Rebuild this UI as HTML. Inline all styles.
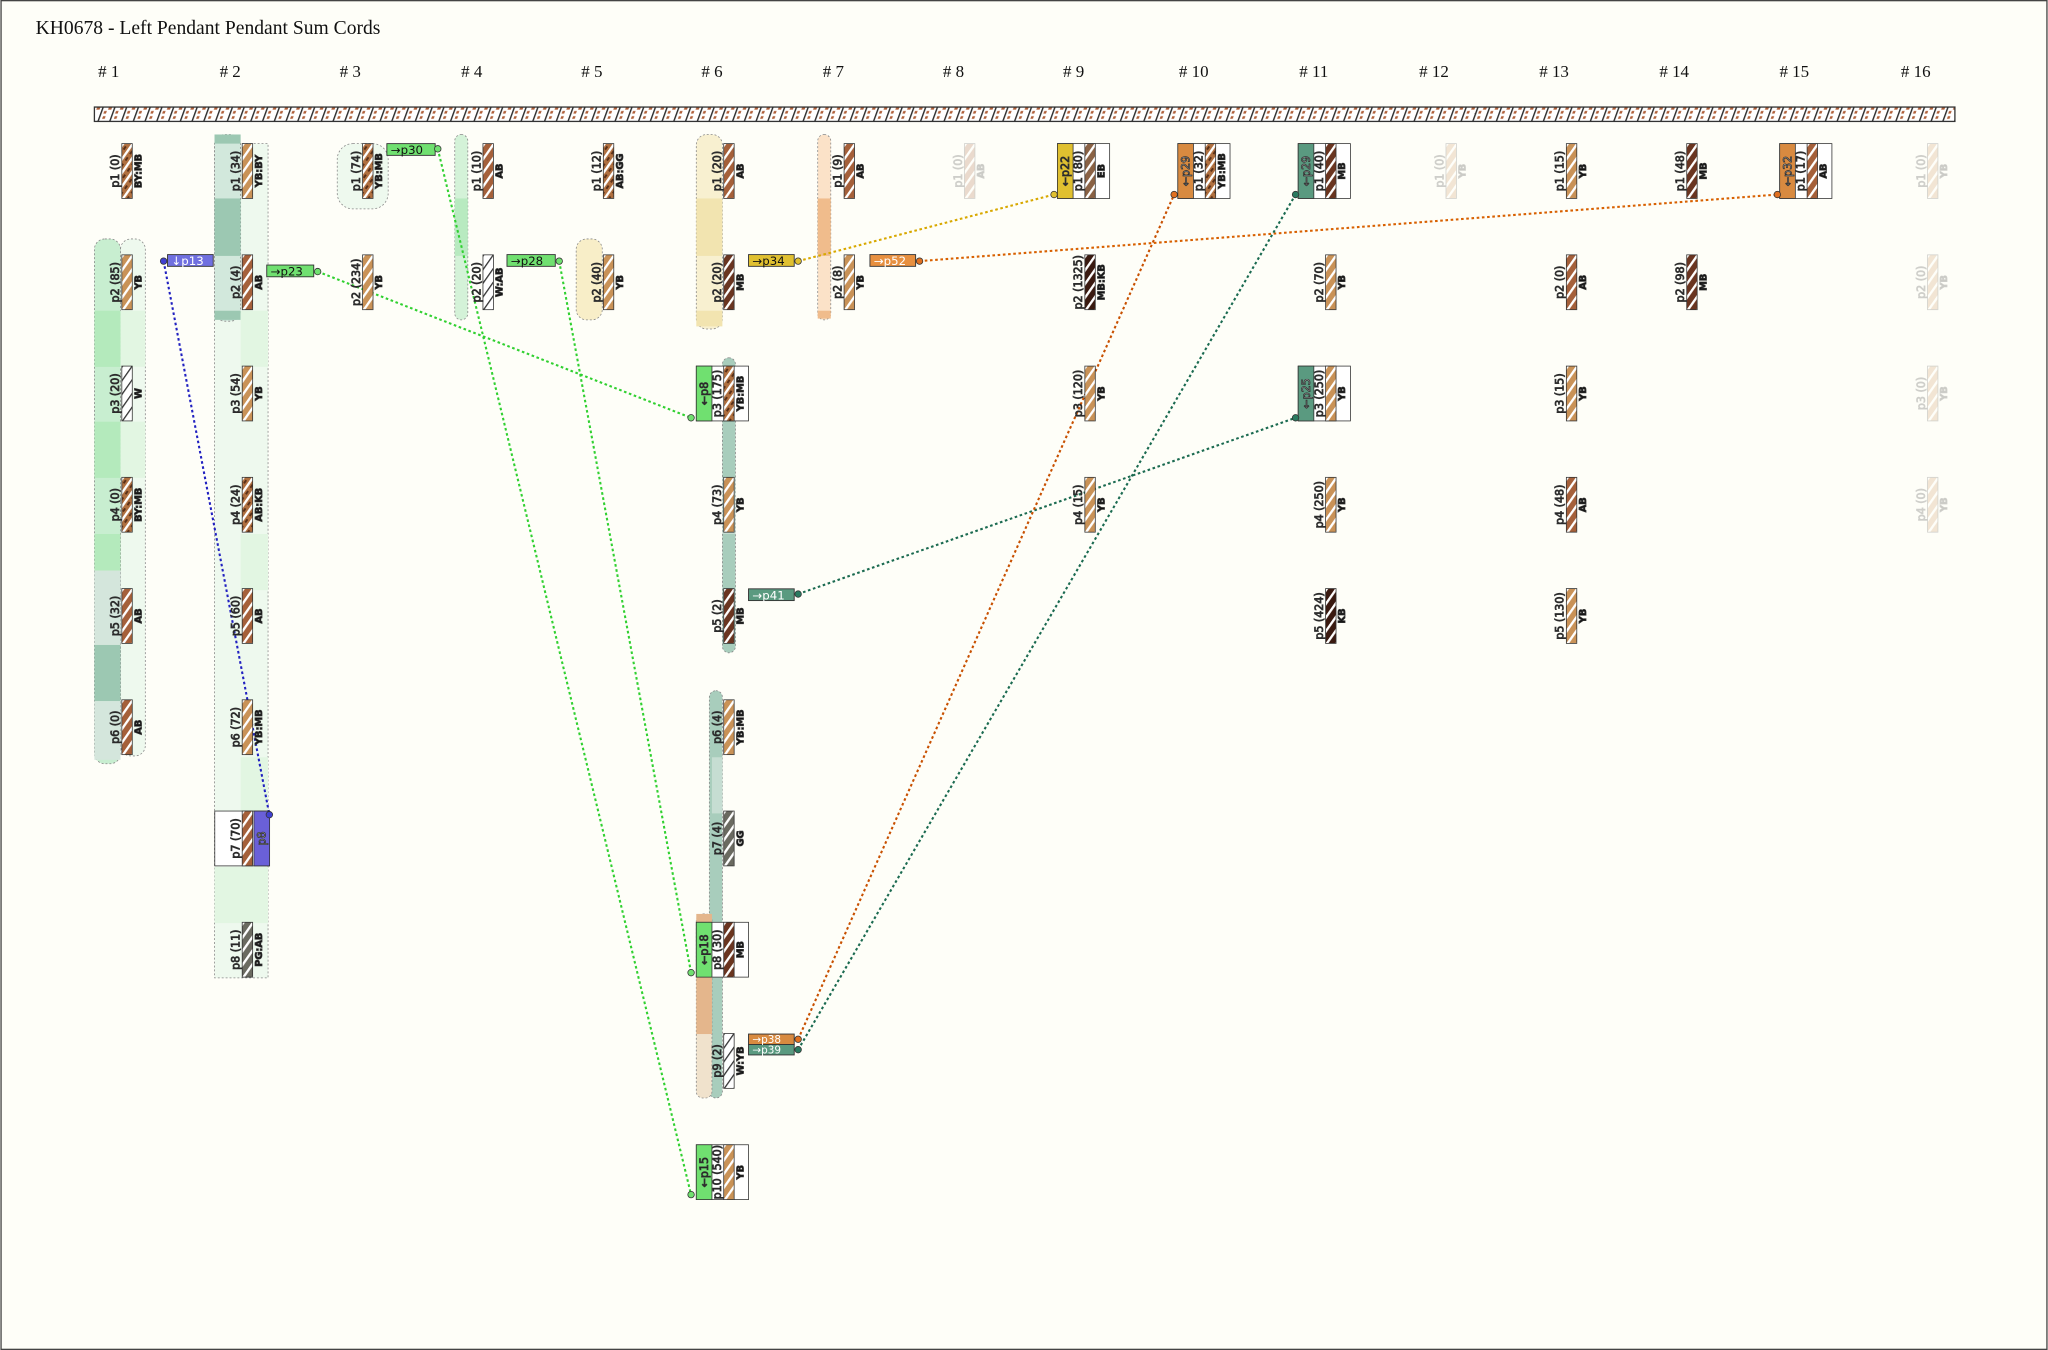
<!DOCTYPE html>
<html><head><meta charset="utf-8"><style>
html,body{margin:0;padding:0;background:#fefef8;}
svg{display:block;}
.p,.c{font-family:"DejaVu Sans","Liberation Sans",sans-serif;font-size:8.5px;text-anchor:middle;fill:#111;}
.c{font-weight:bold;font-size:7.5px;}
.t{font-family:"DejaVu Sans","Liberation Sans",sans-serif;font-size:8.5px;fill:#fff;text-anchor:middle;}
.h{font-family:"Liberation Serif",serif;font-size:13px;fill:#111;text-anchor:middle;}
.f{opacity:.22}
</style></head><body>
<svg width="2048" height="1350" viewBox="0 0 1568 1034" xmlns="http://www.w3.org/2000/svg">
<defs>
<pattern id="AB" width="6" height="6" patternUnits="userSpaceOnUse" patternTransform="rotate(35)"><rect width="6" height="6" fill="#a5603a"/><rect width="1.8" height="6" fill="#fff"/></pattern>
<pattern id="YB" width="6" height="6" patternUnits="userSpaceOnUse" patternTransform="rotate(35)"><rect width="6" height="6" fill="#c99257"/><rect width="1.8" height="6" fill="#fff"/></pattern>
<pattern id="MB" width="6" height="6" patternUnits="userSpaceOnUse" patternTransform="rotate(35)"><rect width="6" height="6" fill="#6a3520"/><rect width="1.8" height="6" fill="#fff"/></pattern>
<pattern id="KB" width="6" height="6" patternUnits="userSpaceOnUse" patternTransform="rotate(35)"><rect width="6" height="6" fill="#3a1a10"/><rect width="1.8" height="6" fill="#fff"/></pattern>
<pattern id="EB" width="6" height="6" patternUnits="userSpaceOnUse" patternTransform="rotate(35)"><rect width="6" height="6" fill="#8a6245"/><rect width="1.8" height="6" fill="#fff"/></pattern>
<pattern id="GG" width="6" height="6" patternUnits="userSpaceOnUse" patternTransform="rotate(35)"><rect width="6" height="6" fill="#6a6a60"/><rect width="1.8" height="6" fill="#fff"/></pattern>
<pattern id="W" width="6" height="6" patternUnits="userSpaceOnUse" patternTransform="rotate(35)"><rect width="6" height="6" fill="#fff"/><rect width="1" height="6" fill="#333"/></pattern>
<pattern id="MX" width="6" height="6" patternUnits="userSpaceOnUse" patternTransform="rotate(35)"><rect width="6" height="6" fill="#b07040"/><rect x="3" width="1.5" height="3" fill="#5a3018"/><rect width="1.8" height="6" fill="#fff"/></pattern>
<pattern id="TOP" width="9" height="11" patternUnits="userSpaceOnUse" patternTransform="skewX(-20)"><rect width="9" height="11" fill="#fff"/><rect width="1.2" height="11" fill="#333"/><rect x="3" y="1" width="2" height="2" fill="#b0603a"/><rect x="5" y="5" width="2.5" height="2" fill="#b0603a"/><rect x="2.5" y="8" width="2" height="2" fill="#b0603a"/></pattern>
</defs>
<rect x="0.5" y="0.5" width="1567" height="1033" fill="#fefef8" stroke="#444"/>
<text x="27" y="26" font-family="Liberation Serif,serif" font-size="15" fill="#111">KH0678 - Left Pendant Pendant Sum Cords</text>
<g class="h">
<text x="83" y="59"># 1</text><text x="176" y="59"># 2</text><text x="268" y="59"># 3</text><text x="361" y="59"># 4</text><text x="453" y="59"># 5</text><text x="545" y="59"># 6</text><text x="638" y="59"># 7</text><text x="730" y="59"># 8</text><text x="822" y="59"># 9</text><text x="914" y="59"># 10</text><text x="1006" y="59"># 11</text><text x="1098" y="59"># 12</text><text x="1190" y="59"># 13</text><text x="1282" y="59"># 14</text><text x="1374" y="59"># 15</text><text x="1467" y="59"># 16</text>
</g>
<rect x="72" y="82" width="1425" height="11" fill="url(#TOP)" stroke="#333"/>

<g stroke="#888" stroke-dasharray="1.5,1.5" stroke-width="0.6">
<rect x="92" y="183" width="19" height="396" rx="8" fill="#eef9ee"/>
<rect x="72" y="183" width="20" height="402" rx="8" fill="#c8eed0"/>
<rect x="164" y="110" width="41" height="639" fill="#eef9ee"/>
<rect x="164" y="103" width="20" height="143" rx="8" fill="#d2e8dc"/>
<rect x="258" y="110" width="39" height="50" rx="12" fill="#eef9ee"/>
<rect x="348" y="103" width="10" height="142" rx="5" fill="#d4f2d8"/>
<rect x="441" y="183" width="20" height="62" rx="8" fill="#f8eec8"/>
<rect x="533" y="103" width="20" height="149" rx="8" fill="#f8f0d0"/>
<rect x="553" y="274" width="10" height="226" rx="5" fill="#a8cdbc"/>
<rect x="543" y="529" width="10" height="312" rx="5" fill="#a8cdbc"/>
<rect x="533" y="700" width="12" height="141" rx="5" fill="#f0e2cc"/>
<rect x="626" y="103" width="10" height="142" rx="5" fill="#fbe2c8"/>
</g>
<g stroke="none">
<rect x="72" y="238" width="20" height="43" fill="#b4eabc"/><rect x="72" y="323" width="20" height="43" fill="#b4eabc"/><rect x="72" y="409" width="20" height="28" fill="#b4eabc"/>
<rect x="72" y="437" width="20" height="57" fill="#d4e6dc"/><rect x="72" y="494" width="20" height="43" fill="#9cc8b2"/><rect x="72" y="537" width="20" height="45" fill="#d4e6dc"/>
<rect x="92" y="238" width="19" height="43" fill="#e2f6e2"/><rect x="92" y="323" width="19" height="43" fill="#e2f6e2"/>
<rect x="164" y="103" width="20" height="7" fill="#9cc8b2"/><rect x="164" y="152" width="20" height="44" fill="#9cc8b2"/><rect x="164" y="238" width="20" height="7" fill="#9cc8b2"/>
<rect x="184" y="238" width="21" height="43" fill="#e2f6e2"/><rect x="184" y="409" width="21" height="43" fill="#e2f6e2"/><rect x="184" y="580" width="21" height="43" fill="#e2f6e2"/><rect x="164" y="664" width="41" height="43" fill="#e2f6e2"/>
<rect x="348" y="152" width="10" height="44" fill="#b8eac0"/>
<rect x="533" y="152" width="20" height="44" fill="#f2e4b0"/><rect x="533" y="238" width="20" height="12" fill="#f2e4b0"/>
<rect x="626" y="152" width="10" height="44" fill="#f0bc8c"/><rect x="626" y="238" width="10" height="6" fill="#f0bc8c"/>
<rect x="533" y="700" width="12" height="92" fill="#e4b68c"/>
<rect x="553" y="366" width="10" height="43" fill="#c6ddd2"/><rect x="545" y="580" width="8" height="43" fill="#c6ddd2"/>
</g>

<g fill="none" stroke-dasharray="2,2" stroke-width="1.6">
<line x1="125" y1="200" x2="206" y2="624" stroke="#2020c0"/>
<line x1="243" y1="208" x2="529" y2="320" stroke="#30d030"/>
<line x1="335" y1="114" x2="529" y2="915" stroke="#30d030"/>
<line x1="428" y1="200" x2="529" y2="745" stroke="#30d030"/>
<line x1="611" y1="200" x2="807" y2="149" stroke="#d8a800"/>
<line x1="704" y1="200" x2="1361" y2="149" stroke="#d86000"/>
<line x1="611" y1="455" x2="992" y2="320" stroke="#1a6a50"/>
<line x1="611" y1="796" x2="899" y2="149" stroke="#c85000"/>
<line x1="611" y1="804" x2="992" y2="149" stroke="#1a6a50"/>
</g>

<g stroke="#333" stroke-width="0.7">
<rect x="128" y="195" width="35" height="9" fill="#7070e0"/>
<rect x="204" y="203" width="36" height="9" fill="#70e070"/>
<rect x="296" y="110" width="37" height="9" fill="#70e070"/>
<rect x="388" y="195" width="37" height="9" fill="#70e070"/>
<rect x="573" y="195" width="35" height="9" fill="#e0c030"/>
<rect x="666" y="195" width="35" height="9" fill="#e89040"/>
<rect x="573" y="451" width="35" height="9" fill="#5a9a80"/>
<rect x="573" y="792" width="35" height="8" fill="#d88a40"/>
<rect x="573" y="800" width="35" height="8" fill="#5a9a80"/>
</g>
<g font-family="DejaVu Sans,sans-serif" font-size="9">
<text x="131" y="203" fill="#fff">↓p13</text>
<text x="207" y="211" fill="#111">→p23</text>
<text x="299" y="118" fill="#111">→p30</text>
<text x="391" y="203" fill="#111">→p28</text>
<text x="576" y="203" fill="#111">→p34</text>
<text x="669" y="203" fill="#fff">→p52</text>
<text x="576" y="459" fill="#fff">→p41</text>
<text x="576" y="799" fill="#fff" font-size="8">→p38</text>
<text x="576" y="807" fill="#fff" font-size="8">→p39</text>
</g>

<g stroke="#333" stroke-width="0.6">
<g transform="translate(93,110)"><rect width="8" height="42" fill="url(#MX)"/><text class="p" transform="translate(-2,21) rotate(-90)">p1 (0)</text><text class="c" transform="translate(15,21) rotate(-90)">BY:MB</text></g>
<g transform="translate(93,195.2)"><rect width="8" height="42" fill="url(#YB)"/><text class="p" transform="translate(-2,21) rotate(-90)">p2 (85)</text><text class="c" transform="translate(15,21) rotate(-90)">YB</text></g>
<g transform="translate(93,280.4)"><rect width="8" height="42" fill="url(#W)"/><text class="p" transform="translate(-2,21) rotate(-90)">p3 (20)</text><text class="c" transform="translate(15,21) rotate(-90)">W</text></g>
<g transform="translate(93,365.6)"><rect width="8" height="42" fill="url(#MX)"/><text class="p" transform="translate(-2,21) rotate(-90)">p4 (0)</text><text class="c" transform="translate(15,21) rotate(-90)">BY:MB</text></g>
<g transform="translate(93,450.8)"><rect width="8" height="42" fill="url(#AB)"/><text class="p" transform="translate(-2,21) rotate(-90)">p5 (32)</text><text class="c" transform="translate(15,21) rotate(-90)">AB</text></g>
<g transform="translate(93,536)"><rect width="8" height="42" fill="url(#AB)"/><text class="p" transform="translate(-2,21) rotate(-90)">p6 (0)</text><text class="c" transform="translate(15,21) rotate(-90)">AB</text></g>
<g transform="translate(185.2,110)"><rect width="8" height="42" fill="url(#YB)"/><text class="p" transform="translate(-2,21) rotate(-90)">p1 (34)</text><text class="c" transform="translate(15,21) rotate(-90)">YB:BY</text></g>
<g transform="translate(185.2,195.2)"><rect width="8" height="42" fill="url(#AB)"/><text class="p" transform="translate(-2,21) rotate(-90)">p2 (4)</text><text class="c" transform="translate(15,21) rotate(-90)">AB</text></g>
<g transform="translate(185.2,280.4)"><rect width="8" height="42" fill="url(#YB)"/><text class="p" transform="translate(-2,21) rotate(-90)">p3 (54)</text><text class="c" transform="translate(15,21) rotate(-90)">YB</text></g>
<g transform="translate(185.2,365.6)"><rect width="8" height="42" fill="url(#MX)"/><text class="p" transform="translate(-2,21) rotate(-90)">p4 (24)</text><text class="c" transform="translate(15,21) rotate(-90)">AB:KB</text></g>
<g transform="translate(185.2,450.8)"><rect width="8" height="42" fill="url(#AB)"/><text class="p" transform="translate(-2,21) rotate(-90)">p5 (60)</text><text class="c" transform="translate(15,21) rotate(-90)">AB</text></g>
<g transform="translate(185.2,536)"><rect width="8" height="42" fill="url(#YB)"/><text class="p" transform="translate(-2,21) rotate(-90)">p6 (72)</text><text class="c" transform="translate(15,21) rotate(-90)">YB:MB</text></g>
<g transform="translate(185.2,621.2)"><rect x="-21" width="42" height="42" fill="#fff"/><rect x="9" width="12" height="42" fill="#6a60d8"/><rect width="8" height="42" fill="url(#AB)"/><text class="p" transform="translate(-2,21) rotate(-90)">p7 (70)</text><text class="t" transform="translate(18,21) rotate(-90)">p8</text></g>
<g transform="translate(185.2,706.4)"><rect width="8" height="42" fill="url(#GG)"/><text class="p" transform="translate(-2,21) rotate(-90)">p8 (11)</text><text class="c" transform="translate(15,21) rotate(-90)">PG:AB</text></g>
<g transform="translate(277.4,110)"><rect width="8" height="42" fill="url(#MX)"/><text class="p" transform="translate(-2,21) rotate(-90)">p1 (74)</text><text class="c" transform="translate(15,21) rotate(-90)">YB:MB</text></g>
<g transform="translate(277.4,195.2)"><rect width="8" height="42" fill="url(#YB)"/><text class="p" transform="translate(-2,21) rotate(-90)">p2 (234)</text><text class="c" transform="translate(15,21) rotate(-90)">YB</text></g>
<g transform="translate(369.6,110)"><rect width="8" height="42" fill="url(#AB)"/><text class="p" transform="translate(-2,21) rotate(-90)">p1 (10)</text><text class="c" transform="translate(15,21) rotate(-90)">AB</text></g>
<g transform="translate(369.6,195.2)"><rect width="8" height="42" fill="url(#W)"/><text class="p" transform="translate(-2,21) rotate(-90)">p2 (20)</text><text class="c" transform="translate(15,21) rotate(-90)">W:AB</text></g>
<g transform="translate(461.8,110)"><rect width="8" height="42" fill="url(#MX)"/><text class="p" transform="translate(-2,21) rotate(-90)">p1 (12)</text><text class="c" transform="translate(15,21) rotate(-90)">AB:GG</text></g>
<g transform="translate(461.8,195.2)"><rect width="8" height="42" fill="url(#YB)"/><text class="p" transform="translate(-2,21) rotate(-90)">p2 (40)</text><text class="c" transform="translate(15,21) rotate(-90)">YB</text></g>
<g transform="translate(554,110)"><rect width="8" height="42" fill="url(#AB)"/><text class="p" transform="translate(-2,21) rotate(-90)">p1 (20)</text><text class="c" transform="translate(15,21) rotate(-90)">AB</text></g>
<g transform="translate(554,195.2)"><rect width="8" height="42" fill="url(#MB)"/><text class="p" transform="translate(-2,21) rotate(-90)">p2 (20)</text><text class="c" transform="translate(15,21) rotate(-90)">MB</text></g>
<g transform="translate(554,280.4)"><rect x="-21" width="40" height="42" fill="#fff"/><rect x="-21" width="12" height="42" fill="#70e070"/><rect width="8" height="42" fill="url(#MX)"/><text class="p" transform="translate(-2,21) rotate(-90)">p3 (175)</text><text class="c" transform="translate(15,21) rotate(-90)">YB:MB</text><text class="t" style="fill:#111" transform="translate(-12,21) rotate(-90)">←p8</text></g>
<g transform="translate(554,365.6)"><rect width="8" height="42" fill="url(#YB)"/><text class="p" transform="translate(-2,21) rotate(-90)">p4 (73)</text><text class="c" transform="translate(15,21) rotate(-90)">YB</text></g>
<g transform="translate(554,450.8)"><rect width="8" height="42" fill="url(#MB)"/><text class="p" transform="translate(-2,21) rotate(-90)">p5 (2)</text><text class="c" transform="translate(15,21) rotate(-90)">MB</text></g>
<g transform="translate(554,536)"><rect width="8" height="42" fill="url(#YB)"/><text class="p" transform="translate(-2,21) rotate(-90)">p6 (4)</text><text class="c" transform="translate(15,21) rotate(-90)">YB:MB</text></g>
<g transform="translate(554,621.2)"><rect width="8" height="42" fill="url(#GG)"/><text class="p" transform="translate(-2,21) rotate(-90)">p7 (4)</text><text class="c" transform="translate(15,21) rotate(-90)">GG</text></g>
<g transform="translate(554,706.4)"><rect x="-21" width="40" height="42" fill="#fff"/><rect x="-21" width="12" height="42" fill="#70e070"/><rect width="8" height="42" fill="url(#MB)"/><text class="p" transform="translate(-2,21) rotate(-90)">p8 (30)</text><text class="c" transform="translate(15,21) rotate(-90)">MB</text><text class="t" style="fill:#111" transform="translate(-12,21) rotate(-90)">←p18</text></g>
<g transform="translate(554,791.6)"><rect width="8" height="42" fill="url(#W)"/><text class="p" transform="translate(-2,21) rotate(-90)">p9 (2)</text><text class="c" transform="translate(15,21) rotate(-90)">W:YB</text></g>
<g transform="translate(554,876.8)"><rect x="-21" width="40" height="42" fill="#fff"/><rect x="-21" width="12" height="42" fill="#70e070"/><rect width="8" height="42" fill="url(#YB)"/><text class="p" transform="translate(-2,21) rotate(-90)">p10 (540)</text><text class="c" transform="translate(15,21) rotate(-90)">YB</text><text class="t" style="fill:#111" transform="translate(-12,21) rotate(-90)">←p15</text></g>
<g transform="translate(646.2,110)"><rect width="8" height="42" fill="url(#AB)"/><text class="p" transform="translate(-2,21) rotate(-90)">p1 (9)</text><text class="c" transform="translate(15,21) rotate(-90)">AB</text></g>
<g transform="translate(646.2,195.2)"><rect width="8" height="42" fill="url(#YB)"/><text class="p" transform="translate(-2,21) rotate(-90)">p2 (8)</text><text class="c" transform="translate(15,21) rotate(-90)">YB</text></g>
<g class="f" transform="translate(738.4,110)"><rect width="8" height="42" fill="url(#AB)"/><text class="p" transform="translate(-2,21) rotate(-90)">p1 (0)</text><text class="c" transform="translate(15,21) rotate(-90)">AB</text></g>
<g transform="translate(830.6,110)"><rect x="-21" width="40" height="42" fill="#fff"/><rect x="-21" width="12" height="42" fill="#e0c030"/><rect width="8" height="42" fill="url(#EB)"/><text class="p" transform="translate(-2,21) rotate(-90)">p1 (80)</text><text class="c" transform="translate(15,21) rotate(-90)">EB</text><text class="t" style="fill:#111" transform="translate(-12,21) rotate(-90)">←p22</text></g>
<g transform="translate(830.6,195.2)"><rect width="8" height="42" fill="url(#KB)"/><text class="p" transform="translate(-2,21) rotate(-90)">p2 (1325)</text><text class="c" transform="translate(15,21) rotate(-90)">MB:KB</text></g>
<g transform="translate(830.6,280.4)"><rect width="8" height="42" fill="url(#YB)"/><text class="p" transform="translate(-2,21) rotate(-90)">p3 (120)</text><text class="c" transform="translate(15,21) rotate(-90)">YB</text></g>
<g transform="translate(830.6,365.6)"><rect width="8" height="42" fill="url(#YB)"/><text class="p" transform="translate(-2,21) rotate(-90)">p4 (15)</text><text class="c" transform="translate(15,21) rotate(-90)">YB</text></g>
<g transform="translate(922.8,110)"><rect x="-21" width="40" height="42" fill="#fff"/><rect x="-21" width="12" height="42" fill="#d88a40"/><rect width="8" height="42" fill="url(#MX)"/><text class="p" transform="translate(-2,21) rotate(-90)">p1 (32)</text><text class="c" transform="translate(15,21) rotate(-90)">YB:MB</text><text class="t" transform="translate(-12,21) rotate(-90)">←p29</text></g>
<g transform="translate(1015,110)"><rect x="-21" width="40" height="42" fill="#fff"/><rect x="-21" width="12" height="42" fill="#5a9a80"/><rect width="8" height="42" fill="url(#MB)"/><text class="p" transform="translate(-2,21) rotate(-90)">p1 (40)</text><text class="c" transform="translate(15,21) rotate(-90)">MB</text><text class="t" transform="translate(-12,21) rotate(-90)">←p29</text></g>
<g transform="translate(1015,195.2)"><rect width="8" height="42" fill="url(#YB)"/><text class="p" transform="translate(-2,21) rotate(-90)">p2 (70)</text><text class="c" transform="translate(15,21) rotate(-90)">YB</text></g>
<g transform="translate(1015,280.4)"><rect x="-21" width="40" height="42" fill="#fff"/><rect x="-21" width="12" height="42" fill="#5a9a80"/><rect width="8" height="42" fill="url(#YB)"/><text class="p" transform="translate(-2,21) rotate(-90)">p3 (250)</text><text class="c" transform="translate(15,21) rotate(-90)">YB</text><text class="t" transform="translate(-12,21) rotate(-90)">←p25</text></g>
<g transform="translate(1015,365.6)"><rect width="8" height="42" fill="url(#YB)"/><text class="p" transform="translate(-2,21) rotate(-90)">p4 (250)</text><text class="c" transform="translate(15,21) rotate(-90)">YB</text></g>
<g transform="translate(1015,450.8)"><rect width="8" height="42" fill="url(#KB)"/><text class="p" transform="translate(-2,21) rotate(-90)">p5 (424)</text><text class="c" transform="translate(15,21) rotate(-90)">KB</text></g>
<g class="f" transform="translate(1107.2,110)"><rect width="8" height="42" fill="url(#YB)"/><text class="p" transform="translate(-2,21) rotate(-90)">p1 (0)</text><text class="c" transform="translate(15,21) rotate(-90)">YB</text></g>
<g transform="translate(1199.4,110)"><rect width="8" height="42" fill="url(#YB)"/><text class="p" transform="translate(-2,21) rotate(-90)">p1 (15)</text><text class="c" transform="translate(15,21) rotate(-90)">YB</text></g>
<g transform="translate(1199.4,195.2)"><rect width="8" height="42" fill="url(#AB)"/><text class="p" transform="translate(-2,21) rotate(-90)">p2 (0)</text><text class="c" transform="translate(15,21) rotate(-90)">AB</text></g>
<g transform="translate(1199.4,280.4)"><rect width="8" height="42" fill="url(#YB)"/><text class="p" transform="translate(-2,21) rotate(-90)">p3 (15)</text><text class="c" transform="translate(15,21) rotate(-90)">YB</text></g>
<g transform="translate(1199.4,365.6)"><rect width="8" height="42" fill="url(#AB)"/><text class="p" transform="translate(-2,21) rotate(-90)">p4 (48)</text><text class="c" transform="translate(15,21) rotate(-90)">AB</text></g>
<g transform="translate(1199.4,450.8)"><rect width="8" height="42" fill="url(#YB)"/><text class="p" transform="translate(-2,21) rotate(-90)">p5 (130)</text><text class="c" transform="translate(15,21) rotate(-90)">YB</text></g>
<g transform="translate(1291.6,110)"><rect width="8" height="42" fill="url(#MB)"/><text class="p" transform="translate(-2,21) rotate(-90)">p1 (48)</text><text class="c" transform="translate(15,21) rotate(-90)">MB</text></g>
<g transform="translate(1291.6,195.2)"><rect width="8" height="42" fill="url(#MB)"/><text class="p" transform="translate(-2,21) rotate(-90)">p2 (98)</text><text class="c" transform="translate(15,21) rotate(-90)">MB</text></g>
<g transform="translate(1383.8,110)"><rect x="-21" width="40" height="42" fill="#fff"/><rect x="-21" width="12" height="42" fill="#d88a40"/><rect width="8" height="42" fill="url(#AB)"/><text class="p" transform="translate(-2,21) rotate(-90)">p1 (17)</text><text class="c" transform="translate(15,21) rotate(-90)">AB</text><text class="t" transform="translate(-12,21) rotate(-90)">←p32</text></g>
<g class="f" transform="translate(1476,110)"><rect width="8" height="42" fill="url(#YB)"/><text class="p" transform="translate(-2,21) rotate(-90)">p1 (0)</text><text class="c" transform="translate(15,21) rotate(-90)">YB</text></g>
<g class="f" transform="translate(1476,195.2)"><rect width="8" height="42" fill="url(#YB)"/><text class="p" transform="translate(-2,21) rotate(-90)">p2 (0)</text><text class="c" transform="translate(15,21) rotate(-90)">YB</text></g>
<g class="f" transform="translate(1476,280.4)"><rect width="8" height="42" fill="url(#YB)"/><text class="p" transform="translate(-2,21) rotate(-90)">p3 (0)</text><text class="c" transform="translate(15,21) rotate(-90)">YB</text></g>
<g class="f" transform="translate(1476,365.6)"><rect width="8" height="42" fill="url(#YB)"/><text class="p" transform="translate(-2,21) rotate(-90)">p4 (0)</text><text class="c" transform="translate(15,21) rotate(-90)">YB</text></g>
</g>

<g stroke="#333" stroke-width="0.6">
<circle cx="125" cy="200" r="2.5" fill="#4040d0"/><circle cx="206" cy="624" r="2.5" fill="#4040d0"/>
<circle cx="243" cy="208" r="2.5" fill="#70e070"/><circle cx="335" cy="114" r="2.5" fill="#70e070"/><circle cx="428" cy="200" r="2.5" fill="#70e070"/>
<circle cx="529" cy="320" r="2.5" fill="#70e070"/><circle cx="529" cy="745" r="2.5" fill="#70e070"/><circle cx="529" cy="915" r="2.5" fill="#70e070"/>
<circle cx="611" cy="200" r="2.5" fill="#e0c030"/><circle cx="807" cy="149" r="2.5" fill="#e0c030"/>
<circle cx="704" cy="200" r="2.5" fill="#e07020"/><circle cx="1361" cy="149" r="2.5" fill="#e07020"/>
<circle cx="611" cy="455" r="2.5" fill="#2a7a60"/><circle cx="992" cy="320" r="2.5" fill="#2a7a60"/>
<circle cx="611" cy="796" r="2.5" fill="#e07020"/><circle cx="899" cy="149" r="2.5" fill="#e07020"/>
<circle cx="611" cy="804" r="2.5" fill="#2a7a60"/><circle cx="992" cy="149" r="2.5" fill="#2a7a60"/>
</g>
</svg>
</body></html>
